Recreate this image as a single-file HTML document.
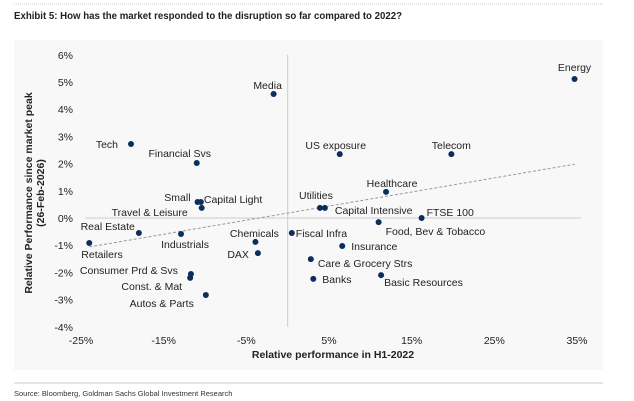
<!DOCTYPE html>
<html><head><meta charset="utf-8"><style>
body{margin:0;background:#fff;width:634px;height:401px;overflow:hidden;font-family:"Liberation Sans",sans-serif}
svg{display:block}
</style></head><body>
<svg width="634" height="401" viewBox="0 0 634 401">
<line x1="14" y1="4" x2="603" y2="4" stroke="#ccc" stroke-dasharray="1,1"/>
<text x="14" y="19" font-size="10.5" font-weight="bold" fill="#222" textLength="388" lengthAdjust="spacingAndGlyphs">Exhibit 5: How has the market responded to the disruption so far compared to 2022?</text>
<rect x="14" y="40" width="589" height="330" fill="#f8f8f8"/>
<g id="g"></g>
<text x="333" y="358" font-size="10.5" font-weight="bold" text-anchor="middle" fill="#222">Relative performance in H1-2022</text>
<text transform="translate(32,193) rotate(-90)" font-size="10.5" font-weight="bold" text-anchor="middle" fill="#222"><tspan x="0" dy="0">Relative Performance since market peak</tspan><tspan x="0" dy="12">(26-Feb-2026)</tspan></text>
<line x1="14" y1="383" x2="603" y2="383" stroke="#ddd" stroke-width="1.5"/>
<text x="14" y="396" font-size="7.5" fill="#333">Source: Bloomberg, Goldman Sachs Global Investment Research</text>
</svg>
<script>
const names=["Tech","Media","Financial Svs","Small","Capital Light","Travel & Leisure","Real Estate","Retailers","Industrials","Chemicals","DAX","Consumer Prd & Svs","Const. & Mat","Autos & Parts","Fiscal Infra","Energy","US exposure","Telecom","Healthcare","Utilities","Capital Intensive","FTSE 100","Food, Bev & Tobacco","Insurance","Care & Grocery Strs","Banks","Basic Resources"];
const xVals=[-18.95,-1.7,-11.0,-10.9,-10.5,-10.4,-18.0,-24.0,-12.9,-3.9,-3.6,-11.7,-11.8,-9.9,0.5,34.7,6.3,19.8,11.9,3.9,4.5,16.2,11.0,6.6,2.8,3.1,11.3];
const yVals=[2.72,4.56,2.02,0.59,0.59,0.37,-0.55,-0.92,-0.59,-0.88,-1.29,-2.06,-2.2,-2.83,-0.55,5.11,2.35,2.35,0.96,0.37,0.37,0.0,-0.15,-1.03,-1.51,-2.24,-2.1];
const xTicks=[-25,-15,-5,5,15,25,35];
const yTicks=[6,5,4,3,2,1,0,-1,-2,-3,-4];
// label layout: [dx, dy, anchor]
const labelLayout=[[-13,4,"end"],[-6,-5,"middle"],[-17,-6,"middle"],[-7,-1,"end"],[3,1,"start"],[-14,8,"end"],[-4,-3,"end"],[-8,15,"start"],[4,14,"middle"],[-1,-5,"middle"],[-9,5,"end"],[-13,0,"end"],[-8,12,"end"],[-12,12,"end"],[4,4,"start"],[0,-8,"middle"],[-4,-5,"middle"],[0,-5,"middle"],[6,-5,"middle"],[-4,-9,"middle"],[10,6,"start"],[5,-2,"start"],[7,13,"start"],[9,4,"start"],[7,8,"start"],[9,4,"start"],[3,11,"start"]];
const X=v=>81+(v+25)*8.267, Y=v=>218-v*27.2;
const NS="http://www.w3.org/2000/svg", g=document.getElementById("g");
function mk(t,a){const e=document.createElementNS(NS,t);for(const k in a)e.setAttribute(k,a[k]);g.appendChild(e);return e;}
let e=mk("line",{x1:X(-24.5),y1:Y(0),x2:X(35.5),y2:Y(0),stroke:"#ccc","stroke-width":1});


e=mk("line",{x1:X(0),y1:Y(6),x2:X(0),y2:Y(-4),stroke:"#ccc","stroke-width":1});


xTicks.forEach(t=>{const el=mk("text",{x:X(t),y:344,"font-size":10.5,"text-anchor":"middle",fill:"#222"});el.textContent=t+"%";

});
yTicks.forEach(t=>{const el=mk("text",{x:73,y:Y(t)+4,"font-size":10.5,"text-anchor":"end",fill:"#222"});el.textContent=t+"%";

});
const n=xVals.length,mx=xVals.reduce((a,b)=>a+b)/n,my=yVals.reduce((a,b)=>a+b)/n;
let sxy=0,sxx=0;for(let i=0;i<n;i++){sxy+=(xVals[i]-mx)*(yVals[i]-my);sxx+=(xVals[i]-mx)**2;}
const sl=sxy/sxx,ic=my-sl*mx,x0=Math.min(...xVals),x1=Math.max(...xVals);
e=mk("line",{x1:X(x0),y1:Y(ic+sl*x0),x2:X(x1),y2:Y(ic+sl*x1),stroke:"#999","stroke-width":1,"stroke-dasharray":"3,2"});


for(let i=0;i<n;i++){
 const px=X(xVals[i]),py=Y(yVals[i]);
 const c=mk("circle",{cx:px,cy:py,r:3,fill:"#0b2f5c"});
 
 
 const L=labelLayout[i];
 const t=mk("text",{x:px+L[0],y:py+L[1],"font-size":10.5,"text-anchor":L[2],fill:"#222"});
 t.textContent=names[i];
 
 
}
</script>
</body></html>
